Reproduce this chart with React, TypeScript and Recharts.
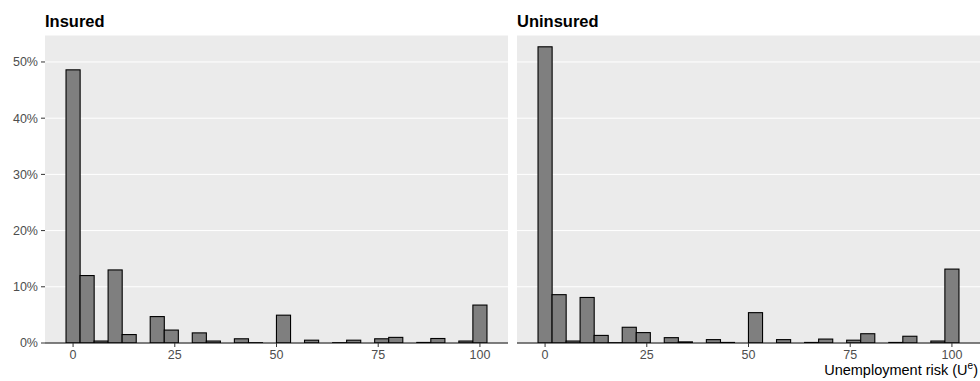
import React from "react";
import {
  BarChart,
  Bar,
  XAxis,
  YAxis,
  CartesianGrid,
  ReferenceLine,
} from "recharts";

// histogram bin centres (30 bins over 0..100)
const binCenters = [
  0, 3.45, 6.9, 10.34, 13.79, 17.24, 20.69, 24.14, 27.59, 31.03,
  34.48, 37.93, 41.38, 44.83, 48.28, 51.72, 55.17, 58.62, 62.07, 65.52,
  68.97, 72.41, 75.86, 79.31, 82.76, 86.21, 89.66, 93.1, 96.55, 100,
];

// share of respondents per bin, in percent
const insured = [
  48.6, 12.0, 0.35, 13.0, 1.5, 0, 4.7, 2.3, 0, 1.8,
  0.35, 0, 0.75, 0.05, 0, 4.95, 0, 0.5, 0, 0.05,
  0.5, 0, 0.75, 1.0, 0, 0.1, 0.8, 0, 0.35, 6.75,
];
const uninsured = [
  52.7, 8.6, 0.35, 8.1, 1.35, 0.05, 2.8, 1.85, 0, 0.95,
  0.2, 0, 0.6, 0.1, 0, 5.4, 0, 0.6, 0, 0.1,
  0.7, 0, 0.5, 1.65, 0, 0.1, 1.2, 0, 0.35, 13.15,
];

const xTicks = [0, 25, 50, 75, 100];
const yTicks = [0, 10, 20, 30, 40, 50];

const FONT = "'Liberation Sans', Arial, sans-serif";
const PANEL_BG = "#EBEBEB";
const X_DOMAIN = [-6.9, 106.9];
const Y_DOMAIN = [0, 54.8];
const MARGIN = { top: 35, right: 0, left: 0, bottom: 0 };
const BIN_PX = 14.1; // one bin wide on screen, so bars touch like a histogram

const toRows = (vals: number[]) =>
  binCenters.map((x, i) => ({ x, pct: vals[i] }));

const tickStyle = { fontSize: 12.5, fill: "#4D4D4D", fontFamily: FONT };

// keep the library's centre and height, just widen so bins are contiguous
const HistBar = (props: any) => {
  const { x, y, width, height } = props;
  if (!height || height <= 0) return null;
  const cx = x + width / 2;
  return (
    <rect
      x={cx - BIN_PX / 2}
      y={y}
      width={BIN_PX}
      height={height}
      fill="#7F7F7F"
      stroke="#000000"
      strokeWidth={1.1}
    />
  );
};

function Panel({ values, showY, width }: { values: number[]; showY: boolean; width: number }) {
  return (
    <BarChart width={width} height={381} data={toRows(values)} margin={MARGIN}>
      <CartesianGrid vertical={false} stroke="#FFFFFF" strokeWidth={1} fill={PANEL_BG} />
      <XAxis
        dataKey="x"
        type="number"
        domain={X_DOMAIN}
        ticks={xTicks}
        allowDataOverflow
        height={38}
        axisLine={false}
        tickLine={{ stroke: "#333333" }}
        tickSize={4}
        tickMargin={3}
        tick={tickStyle}
        interval={0}
      />
      <YAxis
        type="number"
        domain={Y_DOMAIN}
        ticks={yTicks}
        allowDataOverflow
        hide={!showY}
        width={45}
        axisLine={false}
        tickLine={{ stroke: "#333333" }}
        tickSize={4}
        tickMargin={3}
        tick={tickStyle}
        tickFormatter={(v: number) => `${v}%`}
        interval={0}
      />
      <Bar
        dataKey="pct"
        barSize={10}
        shape={HistBar}
        isAnimationActive={false}
      />
      <ReferenceLine y={0} stroke="#000000" strokeWidth={1.2} />
    </BarChart>
  );
}

export default function App() {
  return (
    <div style={{ position: "absolute", left: 0, top: 0, width: 980, height: 381, background: "#fff", overflow: "hidden" }}>
      <div style={{ position: "absolute", left: 0, top: 0 }}>
        <Panel values={insured} showY={true} width={508} />
      </div>
      <div style={{ position: "absolute", left: 517, top: 0 }}>
        <Panel values={uninsured} showY={false} width={463} />
      </div>
      <svg
        width={980}
        height={381}
        style={{ position: "absolute", left: 0, top: 0, pointerEvents: "none" }}
      >
        <text x={45} y={27} fontFamily={FONT} fontSize={16.5} fontWeight="bold" fill="#000000">
          Insured
        </text>
        <text x={517} y={27} fontFamily={FONT} fontSize={16.5} fontWeight="bold" fill="#000000">
          Uninsured
        </text>
        <text x={978} y={375} textAnchor="end" fontFamily={FONT} fontSize={14.5} fill="#000000">
          Unemployment risk (U
          <tspan dy={-6} fontSize={10}>e</tspan>
          <tspan dy={6}>)</tspan>
        </text>
      </svg>
    </div>
  );
}
